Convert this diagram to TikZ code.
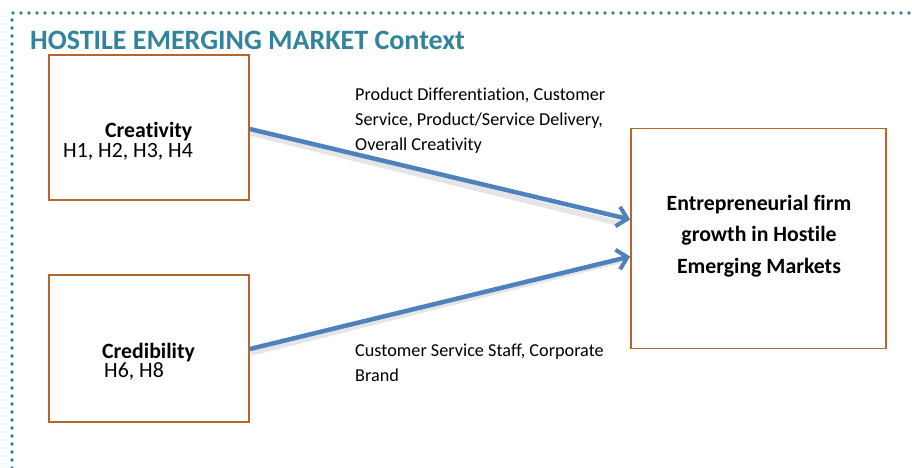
\documentclass[tikz,border=0pt]{standalone}
\usepackage{fontspec}
\setmainfont{Carlito}[Ligatures=NoCommon]
\usetikzlibrary{arrows.meta}
\definecolor{teal}{RGB}{49,132,155}
\definecolor{boxbrown}{RGB}{181,102,45}
\definecolor{arrowblue}{RGB}{79,129,189}
\tikzset{
  factorbox/.style={draw=boxbrown, line width=1.6pt, fill=white},
  linkarrow/.style={draw=arrowblue, line width=4.5pt,
    -{Straight Barb[length=10pt,width=20pt,line width=4pt]}},
  linkshadow/.style={draw=black, line width=5.5pt, opacity=0.10},
  note/.style={anchor=base west, align=left, font=\fontsize{18.2}{25}\selectfont, inner sep=0pt},
  boxtext/.style={anchor=base west, inner sep=0pt, font=\fontsize{21.8}{24}\selectfont},
}
\begin{document}
\begin{tikzpicture}[x=1pt,y=-1pt]
\useasboundingbox (0,0) rectangle (912,468);
% dotted context frame
\draw[teal, line width=3.6pt, line cap=round, dash pattern=on 0pt off 8pt]
  (12,468) -- (12,13) -- (912,13);
\node[anchor=base west, inner sep=0pt, text=teal, font=\fontsize{28}{32}\selectfont\bfseries]
  (title) at (30,50) {HOSTILE EMERGING MARKET Context};
% factor boxes
\node[factorbox, minimum width=200pt, minimum height=145pt, inner sep=0pt] (crea) at (149,127.5) {};
\node[factorbox, minimum width=200pt, minimum height=147pt, inner sep=0pt] (cred) at (149,348.5) {};
\node[factorbox, minimum width=255pt, minimum height=220pt, inner sep=0pt] (growth) at (758.5,238.5) {};
% box texts
\node[boxtext, font=\fontsize{21.8}{24}\selectfont\bfseries] (creaT) at (105,137) {Creativity};
\node[boxtext] (creaH) at (63,157) {H1, H2, H3, H4};
\node[boxtext, font=\fontsize{21.8}{24}\selectfont\bfseries] (credT) at (102,358) {Credibility};
\node[boxtext] (credH) at (104,377.5) {H6, H8};
% multi-line nodes: base anchor sits on the last line
\node[anchor=base, align=center, inner sep=0pt, font=\fontsize{21.8}{31.6}\selectfont\bfseries] (growthT) at (759,273.3)
  {Entrepreneurial firm\\growth in Hostile\\Emerging Markets};
% links
\coordinate (s1) at (crea.east |- 0,129);
\coordinate (e1) at (growth.west |- 0,219.5);
\coordinate (s2) at (cred.east |- 0,349);
\coordinate (e2) at (growth.west |- 0,256.5);
\draw[linkshadow] ([shift={(1,4)}]s1) -- ([shift={(-10,4)}]e1);
\draw[linkshadow] ([shift={(1,4)}]s2) -- ([shift={(-10,4)}]e2);
\draw[linkarrow] (s1) -- (e1);
\draw[linkarrow] (s2) -- (e2);
% link labels
\node[note] (lab1) at (355,150) {Product Differentiation, Customer\\Service, Product/Service Delivery,\\Overall Creativity};
\node[note] (lab2) at (355,381.7) {Customer Service Staff, Corporate\\Brand};
\end{tikzpicture}
\end{document}
